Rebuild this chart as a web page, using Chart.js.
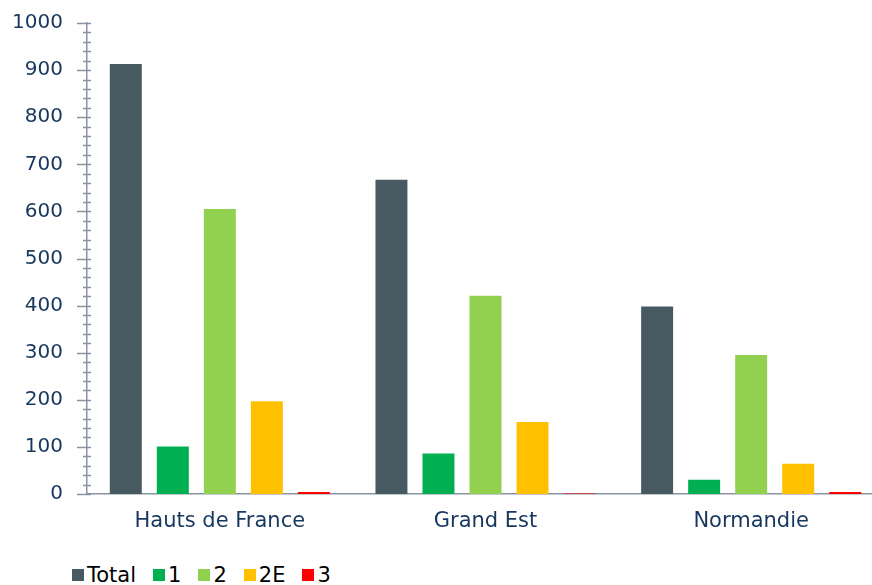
<!DOCTYPE html>
<html>
<head>
<meta charset="utf-8">
<script src="https://cdn.jsdelivr.net/npm/chart.js@4"></script>
<style>
  html, body { margin: 0; padding: 0; background: #fff; overflow: hidden; }
  #wrap { position: relative; width: 872px; height: 585px; overflow: hidden; }
  #legend { position: absolute; left: 72px; top: 563px; display: flex; font-family: "DejaVu Sans", Verdana, sans-serif; font-size: 21px; line-height: 24px; color: #000; }
  #legend span.item { display: flex; align-items: center; margin-right: 17px; }
  #legend span.box { display: inline-block; width: 12px; height: 12px; margin-right: 3px; }
</style>
</head>
<body>
<div id="wrap">
  <canvas id="chart" width="884" height="540"></canvas>
  <div id="legend"></div>
</div>
<script>
const regions = ["Hauts de France", "Grand Est", "Normandie"];
const seriesNames = ["Total", "1", "2", "2E", "3"];
const totalValues = [913, 667, 398];
const class1Values = [101, 86, 30];
const class2Values = [605, 421, 295];
const class2EValues = [197, 153, 64];
const class3Values = [4, 1, 4];
const colors = ["#485A61", "#00B050", "#92D050", "#FFC000", "#FF0000"];

const axisColor = "#8893A3";
const labelColor = "#17375E";

const allValues = [totalValues, class1Values, class2Values, class2EValues, class3Values];

// axis ticks like the original: major every 100 and minor every 20
const axisTicks = {
  id: "axisTicks",
  afterDraw(chart) {
    const ctx = chart.ctx;
    const y = chart.scales.y;
    const x = chart.chartArea.left;
    ctx.save();
    ctx.strokeStyle = axisColor;
    ctx.lineWidth = 1.5;
    for (let v = 0; v <= 1000; v += 20) {
      const py = Math.round(y.getPixelForValue(v)) + 0.5;
      const major = v % 100 === 0;
      ctx.beginPath();
      ctx.moveTo(x - (major ? 10 : 4), py);
      ctx.lineTo(x + 4, py);
      ctx.stroke();
    }
    ctx.restore();
  }
};

new Chart(document.getElementById("chart"), {
  type: "bar",
  data: {
    labels: regions,
    datasets: seriesNames.map((name, i) => ({
      label: name,
      data: allValues[i],
      backgroundColor: colors[i],
      categoryPercentage: 0.885,
      barPercentage: 0.68,
    })),
  },
  options: {
    responsive: false,
    animation: false,
    layout: { padding: { top: 23, left: 12, right: 0, bottom: 1 } },
    plugins: {
      legend: { display: false },
      tooltip: { enabled: false },
    },
    scales: {
      x: {
        grid: { display: false, drawTicks: false },
        border: { color: axisColor, width: 1.5 },
        ticks: {
          color: labelColor,
          padding: 15,
          maxRotation: 0,
          font: { family: "DejaVu Sans", size: 21 },
        },
        afterFit: (scale) => { scale.height = 45; scale.paddingLeft = 0; scale.paddingRight = 0; },
      },
      y: {
        min: 0,
        max: 1000,
        grid: { display: false, drawTicks: false },
        border: { color: axisColor, width: 1.5 },
        ticks: {
          stepSize: 100,
          color: labelColor,
          padding: 24,
          font: { family: "DejaVu Sans", size: 20 },
          callback: (v) => String(v),
        },
        afterFit: (scale) => { scale.width = 75; scale.paddingTop = 0; scale.paddingBottom = 0; },
      },
    },
  },
  plugins: [axisTicks],
});

const legend = document.getElementById("legend");
seriesNames.forEach((name, i) => {
  const item = document.createElement("span");
  item.className = "item";
  const box = document.createElement("span");
  box.className = "box";
  box.style.background = colors[i];
  item.appendChild(box);
  item.appendChild(document.createTextNode(name));
  legend.appendChild(item);
});
</script>
</body>
</html>
